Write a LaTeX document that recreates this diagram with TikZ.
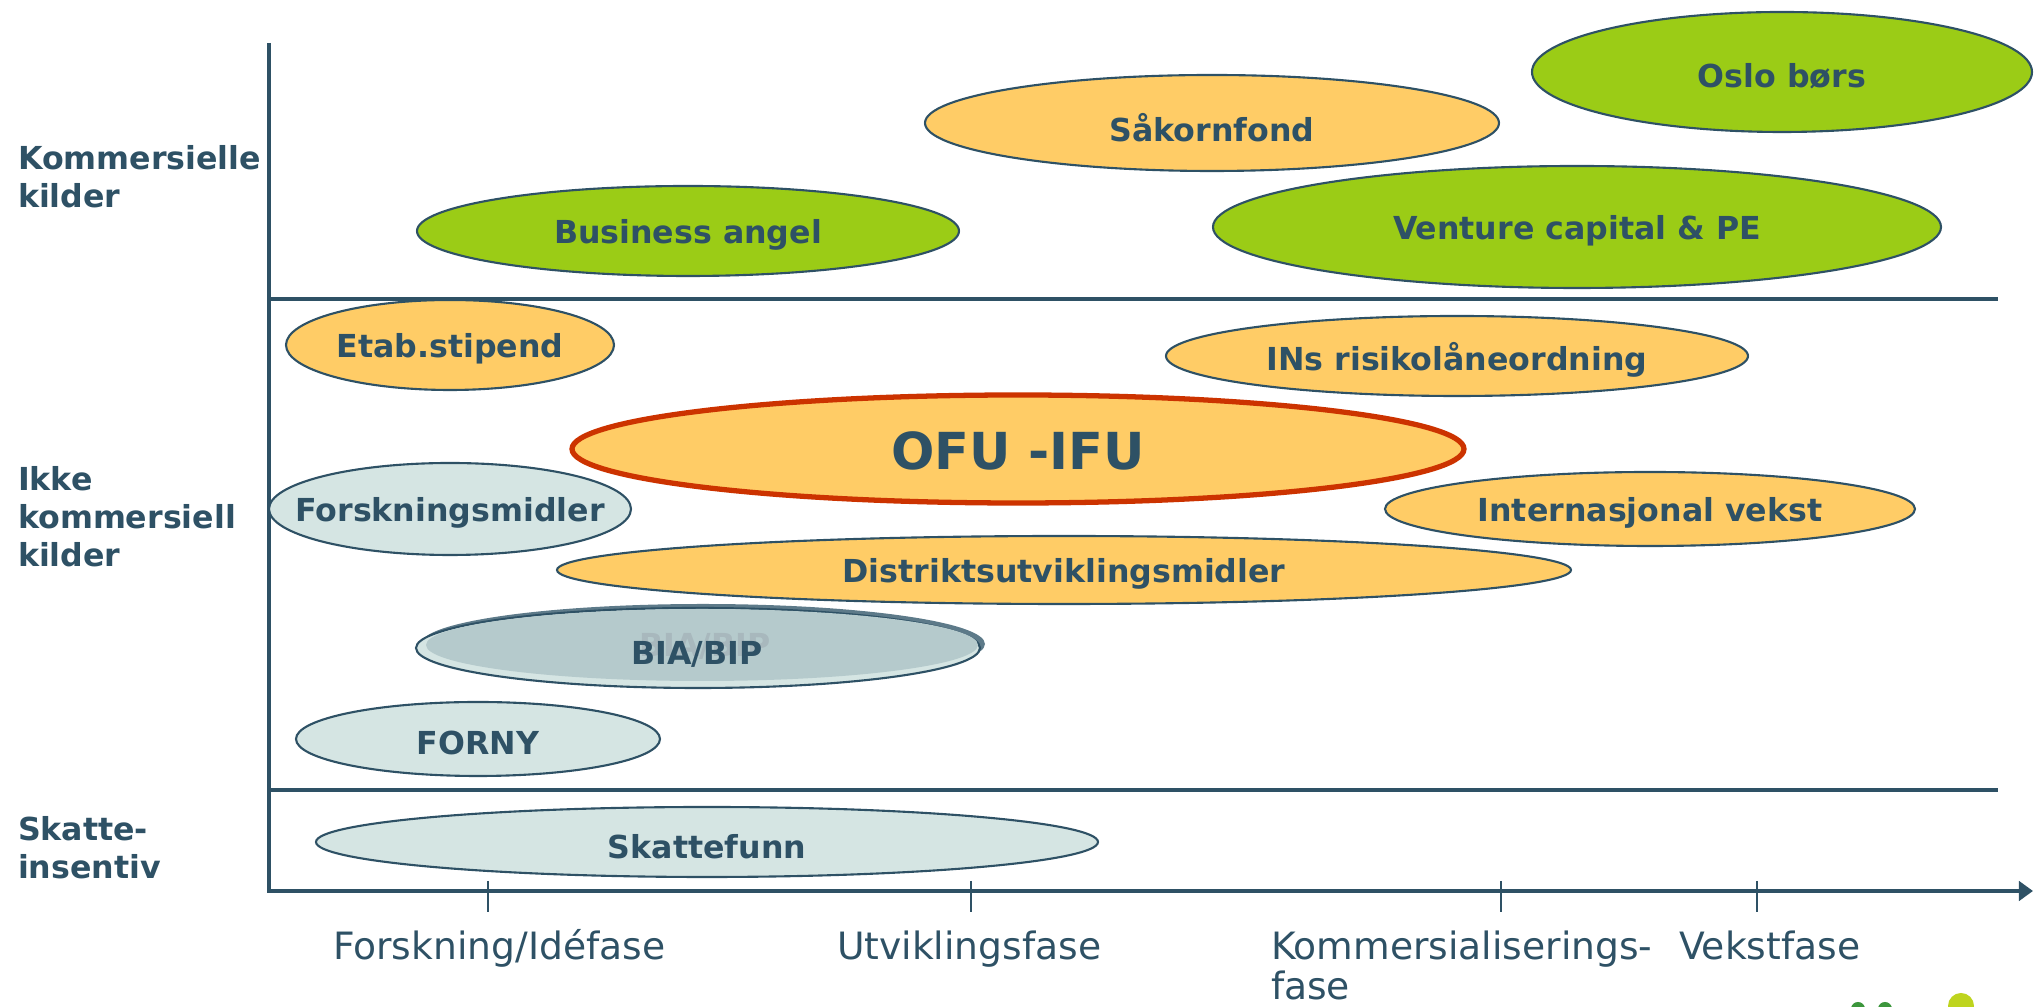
\documentclass[tikz,border=0pt]{standalone}
\usepackage{fontspec}
\setmainfont{DejaVu Sans}
\usetikzlibrary{arrows.meta}
\usetikzlibrary{positioning}
\usetikzlibrary{calc}

\definecolor{inkblue}{RGB}{46,81,101}
\definecolor{fundorange}{RGB}{255,204,102}
\definecolor{fundgreen}{RGB}{155,204,22}
\definecolor{fundgrey}{RGB}{213,229,227}
\definecolor{biagrey}{RGB}{181,202,204}
\definecolor{biashade}{RGB}{93,122,137}
\definecolor{biaghost}{RGB}{168,184,189}
\definecolor{ofured}{RGB}{204,51,0}
\definecolor{logodark}{RGB}{60,150,60}
\definecolor{logolight}{RGB}{190,212,30}

\begin{document}
\begin{tikzpicture}[x=0.01cm,y=-0.01cm,semithick]
	\tikzstyle{axis}=[draw=inkblue,line width=1.15pt]
	\tikzstyle{tickmark}=[draw=inkblue,line width=0.6pt]
	\tikzstyle{private}=[draw=inkblue,line width=0.6pt,fill=fundgreen]
	\tikzstyle{public}=[draw=inkblue,line width=0.6pt,fill=fundorange]
	\tikzstyle{research}=[draw=inkblue,line width=0.6pt,fill=fundgrey]
	\tikzstyle{fund}=[text=inkblue,inner sep=0pt,yshift=-1.2pt,font=\bfseries\fontsize{9}{10}\selectfont]
	\tikzstyle{source}=[text=inkblue,inner sep=0pt,align=left,anchor=west,font=\bfseries\fontsize{9}{10.8}\selectfont]
	\tikzstyle{phase}=[text=inkblue,inner sep=0pt,align=left,anchor=base west,font=\fontsize{10.7}{11.4}\selectfont]
	
	\useasboundingbox (0,0) rectangle (2035,1007);
	
	% axes and bands
	\coordinate (top)        at (269,43);
	\coordinate (origin)     at (269,891);
	\coordinate (xend)       at (2033,891);
	\coordinate (upperleft)  at (269,299);
	\coordinate (upperright) at (1998,299);
	\coordinate (lowerleft)  at (269,790);
	\coordinate (lowerright) at (1998,790);
	
	\draw[axis,-{Triangle[length=4pt,width=5.5pt]}] (top) -- (origin) -- (xend);
	\draw[axis] (upperleft) -- (upperright);
	\draw[axis] (lowerleft) -- (lowerright);
	\foreach \x in {488,971,1501,1757}
		\draw[tickmark] (\x,881) -- (\x,912);
	
	% commercial sources
	\draw[private]  (1782,72)  ellipse [x radius=250, y radius=60] node[fund] (oslo)     {Oslo børs};
	\draw[public]   (1212,123) ellipse [x radius=287, y radius=48] node[fund] (sakorn)   {Såkornfond};
	\draw[private]  (688,231)  ellipse [x radius=271, y radius=45] node[fund] (angel)    {Business angel};
	\draw[private]  (1577,227) ellipse [x radius=364, y radius=61] node[fund] (venture)  {Venture capital \& PE};
	
	% non-commercial sources
	\draw[public]   (450,345)  ellipse [x radius=164, y radius=45] node[fund] (etab)     {Etab.stipend};
	\draw[public]   (1457,356) ellipse [x radius=291, y radius=40] node[fund] (risiko)   {INs risikolåneordning};
	\draw[public,draw=ofured,line width=1.5pt] (1018,449) ellipse [x radius=446, y radius=54]
		node[fund,yshift=0.6pt,font=\bfseries\fontsize{14.5}{16}\selectfont] (ofu) {OFU -IFU};
	\draw[research] (450,509)  ellipse [x radius=181, y radius=46] node[fund] (forskning) {Forskningsmidler};
	\draw[public]   (1650,509) ellipse [x radius=265, y radius=37] node[fund] (intvekst) {Internasjonal vekst};
	\draw[public]   (1064,570) ellipse [x radius=507, y radius=34] node[fund] (distrikt) {Distriktsutviklingsmidler};
	
	\fill[biashade] (703,644) ellipse [x radius=282, y radius=40];
	\draw[research] (698,648)  ellipse [x radius=282, y radius=40];
	\fill[biagrey]  (702,645)  ellipse [x radius=276, y radius=36];
	\node[fund,text=biaghost] (biaghost) at (705,642) {BIA/BIP};
	\node[fund] (bia) at (697,650) {BIA/BIP};
	
	\draw[research] (478,739)  ellipse [x radius=182, y radius=37] node[fund] (forny)    {FORNY};
	
	% tax incentive
	\draw[research] (707,842)  ellipse [x radius=391, y radius=35] node[fund] (skatt)    {Skattefunn};
	
	% source labels
	\node[source] (commercial)    at (17,177) {Kommersielle\\kilder};
	\node[source] (noncommercial) at (17,517) {Ikke\\kommersiell\\kilder};
	\node[source] (taxincentive)  at (17,848) {Skatte-\\insentiv};
	
	% phase labels
	\node[phase] (idea)   at (332,960)  {Forskning/Idéfase};
	\node[phase] (dev)    at (836,960)  {Utviklingsfase};
	\node[phase] (comm)   at (1270,1000) {Kommersialiserings-\\fase};
	\node[phase] (growth) at (1678,960) {Vekstfase};
	
	% logo corner
	\fill[logodark]  (1858,1009) circle [radius=7];
	\fill[logodark]  (1885,1009) circle [radius=7];
	\fill[logolight] (1961,1006) circle [radius=13];
\end{tikzpicture}
\end{document}
